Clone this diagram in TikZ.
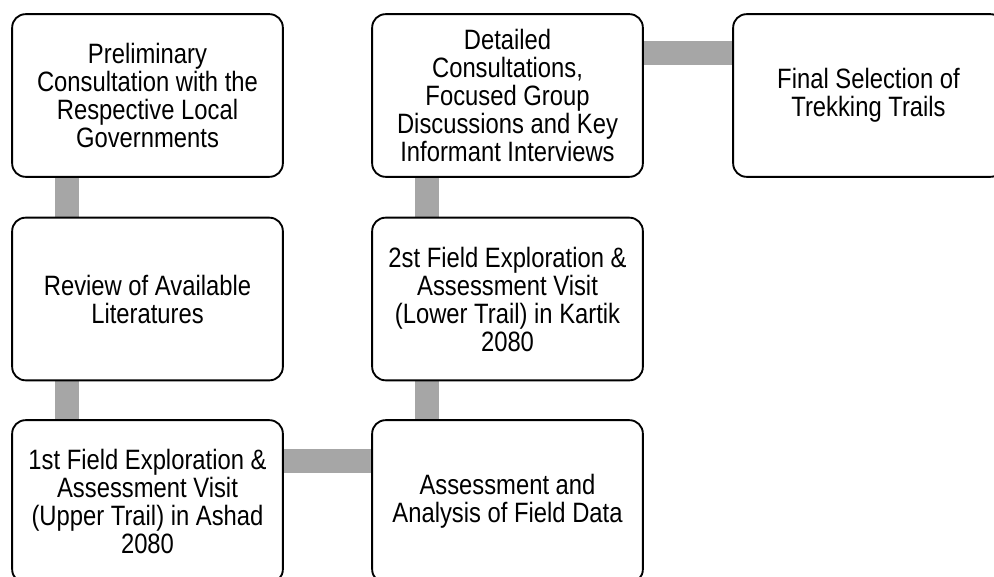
\documentclass[tikz,border=0pt]{standalone}
\usepackage{fontspec}
\setmainfont{Liberation Sans}[FakeStretch=0.85]
\usepackage{xcolor}
\usetikzlibrary{backgrounds}
\definecolor{d_gray}{HTML}{A6A6A6}

\begin{document}
\begin{tikzpicture}[x=0.75pt,y=-0.75pt,
  stage/.style={draw=black, line width=1.4pt, rounded corners=10pt, fill=white,
    minimum width=203pt, minimum height=122pt, inner sep=0pt, align=center,
    font=\fontsize{21}{21}\selectfont},
  link/.style={draw=d_gray, line width=18pt}]
\useasboundingbox (0,0) rectangle (994,577);
\clip (0,0) rectangle (994,577);

% left column
\node[stage] (prelim) at (147.5,95.5) {Preliminary\\Consultation with the\\Respective Local\\Governments};
\node[stage] (review) at (147.5,299) {Review of Available\\Literatures};
\node[stage] (field1) at (147.5,501.5) {1st Field Exploration \&\\Assessment Visit\\(Upper Trail) in Ashad\\2080};

% middle column
\node[stage] (analysis) at (507.5,501.5) {Assessment and\\Analysis of Field Data};
\node[stage] (field2) at (507.5,299) {2st Field Exploration \&\\Assessment Visit\\(Lower Trail) in Kartik\\2080};
\node[stage] (detail) at (507.5,95.5) {Detailed\\Consultations,\\Focused Group\\Discussions and Key\\Informant Interviews};

% right
\node[stage] (final) at (868.5,95.5) {Final Selection of\\Trekking Trails};

\begin{scope}[on background layer]
\draw[link] ([xshift=41.6pt]prelim.south west) -- ([xshift=41.6pt]review.north west);
\draw[link] ([xshift=41.6pt]review.south west) -- ([xshift=41.6pt]field1.north west);
\draw[link] ([yshift=-31pt]field1.north east) -- ([yshift=-31pt]analysis.north west);
\draw[link] ([xshift=41.6pt]analysis.north west) -- ([xshift=41.6pt]field2.south west);
\draw[link] ([xshift=41.6pt]field2.north west) -- ([xshift=41.6pt]detail.south west);
\draw[link] ([yshift=-30pt]detail.north east) -- ([yshift=-30pt]final.north west);
\end{scope}

\end{tikzpicture}
\end{document}
